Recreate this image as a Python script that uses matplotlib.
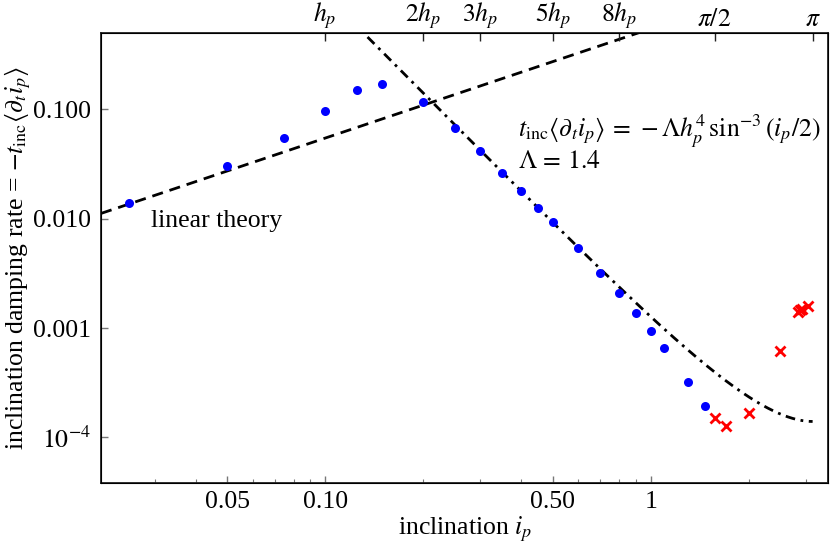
import numpy as np
import matplotlib
matplotlib.use("Agg")
import matplotlib.pyplot as plt

plt.rcParams['font.family'] = ['Liberation Serif', 'DejaVu Serif']
plt.rcParams['mathtext.fontset'] = 'stix'

# simulation points
blue_x = [0.025, 0.05, 0.075, 0.1, 0.125, 0.15, 0.2, 0.25, 0.3, 0.35, 0.4,
          0.45, 0.5, 0.6, 0.7, 0.8, 0.9, 1.0, 1.1, 1.3, 1.47]
blue_y = [0.0139, 0.0303, 0.0543, 0.0959, 0.151, 0.171, 0.1166, 0.0679,
          0.0413, 0.0263, 0.0180, 0.0126, 0.0093, 0.0054, 0.00321, 0.00208,
          0.00138, 0.000946, 0.000654, 0.000324, 0.000195]
red_x = [1.574, 1.70, 2.0, 2.5, 2.84, 2.87, 2.91, 3.04]
red_y = [0.000152, 0.000127, 0.000168, 0.000614, 0.00141, 0.00146, 0.00149,
         0.00158]

h_p = 0.1
Lam = 1.4
lin_coef = 0.544

top_ticks = [h_p, 2 * h_p, 3 * h_p, 5 * h_p, 8 * h_p, np.pi / 2, np.pi]
top_labels = ['$h_p$', '$2h_p$', '$3h_p$', '$5h_p$', '$8h_p$', r'$\pi/2$', r'$\pi$']
bot_ticks = [0.05, 0.1, 0.5, 1]
bot_labels = ['0.05', '0.10', '0.50', '1']
y_ticks = [1e-4, 1e-3, 1e-2, 1e-1]
y_labels = ['$10^{-4}$', '0.001', '0.010', '0.100']

xmin, xmax = 0.0205, 3.51
ymin, ymax = 3.86e-5, 0.5
fs = 18.5

fig = plt.figure(figsize=(8.3, 5.57), dpi=100)
ax = fig.add_axes([101 / 830, 1 - 482.7 / 557, 727.3 / 830, 450 / 557])

# theory curves
xl = np.logspace(np.log10(xmin), np.log10(xmax), 200)
ax.plot(xl, lin_coef * xl, color='black', lw=2, ls=(0, (4, 2.5)))
xn = np.logspace(np.log10(0.12), np.log10(np.pi), 300)
ax.plot(xn, Lam * h_p**4 / np.sin(xn / 2)**3, color='black', lw=2,
        ls=(0, (3.5, 2, 1, 2)))

ax.plot(blue_x, blue_y, 'o', color='blue', ms=6.5, mec='none')
ax.plot(red_x, red_y, 'x', color='red', ms=6.5, mew=2)

ax.set_xscale('log')
ax.set_yscale('log')
ax.set_xlim(xmin, xmax)
ax.set_ylim(ymin, ymax)

ax.set_xticks(bot_ticks)
ax.set_xticklabels(bot_labels)
ax.set_yticks(y_ticks)
ax.set_yticklabels(y_labels)
ax.tick_params(which='both', direction='in', color='#777777', labelsize=fs,
               top=False, right=False)
ax.tick_params(which='major', length=5, width=1)
ax.tick_params(which='minor', length=3, width=0.8)
ax.tick_params(axis='x', pad=6)
ax.tick_params(axis='y', pad=7)
for sp in ax.spines.values():
    sp.set_linewidth(1.3)
    sp.set_color('#222222')

ax2 = ax.twiny()
ax2.set_xscale('log')
ax2.set_xlim(xmin, xmax)
ax2.set_xticks(top_ticks)
ax2.set_xticklabels(top_labels)
ax2.minorticks_off()
ax2.tick_params(direction='in', length=6, width=1, color='#222222',
                labelsize=fs, pad=1.5)

ax.set_xlabel('inclination $i_p$', fontsize=fs, labelpad=1)
ax.set_ylabel(r'inclination damping rate = $-t_{\rm inc}\langle\partial_t i_p\rangle$',
              fontsize=fs, labelpad=0)

ax.text(0.0292, 0.0096, 'linear theory', fontsize=fs, va='center')
ax.text(0.39, 0.0624, r'$t_{\rm inc}\langle\partial_t i_p\rangle\,=\,-\Lambda h_p^4\,\sin^{-3}(i_p/2)$',
        fontsize=fs, va='center')
ax.text(0.39, 0.0332, r'$\Lambda\,=\,1.4$', fontsize=fs, va='center')

fig.savefig('out.png', dpi=100)
